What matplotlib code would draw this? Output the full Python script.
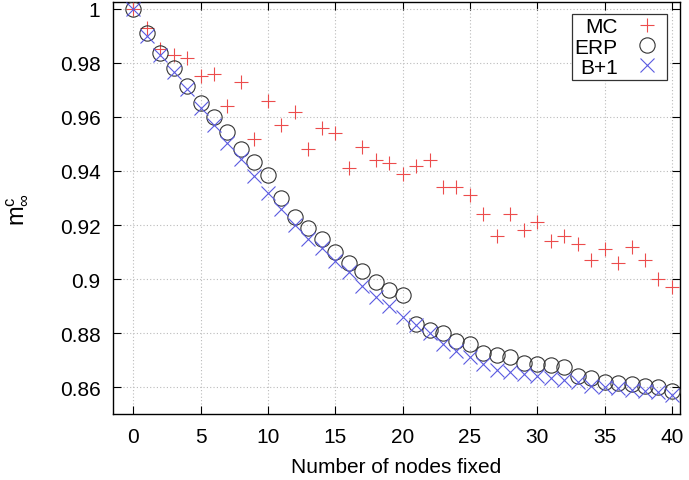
import matplotlib
matplotlib.use("Agg")
import matplotlib.pyplot as plt

plt.rcParams['font.family'] = ['Liberation Sans', 'DejaVu Sans']
plt.rcParams['mathtext.fontset'] = 'custom'
plt.rcParams['mathtext.rm'] = 'Liberation Sans'
plt.rcParams['mathtext.it'] = 'Liberation Sans'

nodes = list(range(41))
mc = [1.0, 0.993, 0.985, 0.983, 0.982, 0.975, 0.976, 0.964, 0.973, 0.952,
      0.966, 0.957, 0.962, 0.948, 0.956, 0.954, 0.941, 0.949, 0.944, 0.943,
      0.939, 0.942, 0.944, 0.934, 0.934, 0.931, 0.924, 0.916, 0.924, 0.918,
      0.921, 0.914, 0.916, 0.913, 0.907, 0.911, 0.906, 0.912, 0.907, 0.900,
      0.897]
erp = [1.0, 0.991, 0.9835, 0.978, 0.9715, 0.965, 0.960, 0.9545, 0.948, 0.9435,
       0.9385, 0.930, 0.923, 0.919, 0.915, 0.910, 0.906, 0.903, 0.899, 0.896,
       0.894, 0.8835, 0.881, 0.880, 0.877, 0.876, 0.8725, 0.872, 0.871, 0.869,
       0.8685, 0.868, 0.8675, 0.864, 0.8635, 0.862, 0.8615, 0.861, 0.8605, 0.860,
       0.8585]
b1 = [1.0, 0.990, 0.983, 0.9765, 0.9705, 0.9635, 0.957, 0.9505, 0.9445, 0.938,
      0.932, 0.926, 0.920, 0.915, 0.9115, 0.9065, 0.9025, 0.8975, 0.8935, 0.890,
      0.886, 0.883, 0.880, 0.876, 0.8735, 0.871, 0.8685, 0.8665, 0.8655, 0.865,
      0.864, 0.8635, 0.8625, 0.862, 0.8605, 0.860, 0.8595, 0.859, 0.8585, 0.858,
      0.857]
xticks = [0, 5, 10, 15, 20, 25, 30, 35, 40]
yticks = [0.86, 0.88, 0.90, 0.92, 0.94, 0.96, 0.98, 1.0]
yticklabels = ['0.86', '0.88', '0.9', '0.92', '0.94', '0.96', '0.98', '1']

fig = plt.figure(figsize=(6.89, 4.81), dpi=100)
ax = fig.add_axes([0.164, 0.137, 0.823, 0.857])

ax.plot(nodes, mc, linestyle='none', marker='+', markersize=10, markeredgewidth=0.8,
        color='#ec4c4c', label='MC', zorder=3)
ax.plot(nodes, erp, linestyle='none', marker='o', markersize=11, markeredgewidth=0.8,
        markerfacecolor='none', markeredgecolor='#333333', label='ERP', zorder=3)
ax.plot(nodes, b1, linestyle='none', marker='x', markersize=10, markeredgewidth=0.8,
        color='#5a5ae0', label='B+1', zorder=3)

ax.set_xlim(-1.5, 40.6)
ax.set_ylim(0.85, 1.0026)
ax.set_xticks(xticks)
ax.set_yticks(yticks)
ax.set_yticklabels(yticklabels)
ax.tick_params(direction='in', top=True, right=True, length=6, width=0.8,
               labelsize=15, pad=9)
ax.grid(True, linestyle=(0, (1, 2)), color='#bbbbbb', linewidth=0.8)
for s in ax.spines.values():
    s.set_linewidth(1.0)

ax.set_xlabel('Number of nodes fixed', fontsize=15, labelpad=8)
ax.set_ylabel(r'$\mathregular{m^c_\infty}$', fontsize=17, labelpad=22)

leg = ax.legend(loc='upper right', markerfirst=False, fancybox=False, framealpha=1,
                edgecolor='#333333', fontsize=15, borderaxespad=0.5,
                handletextpad=0.6, labelspacing=0.05, borderpad=0.15,
                handlelength=1.6,
                bbox_to_anchor=(0.995, 0.995))
leg.get_frame().set_linewidth(0.9)
for t in leg.get_texts():
    t.set_ha('right')

fig.savefig('out.png', dpi=100)
